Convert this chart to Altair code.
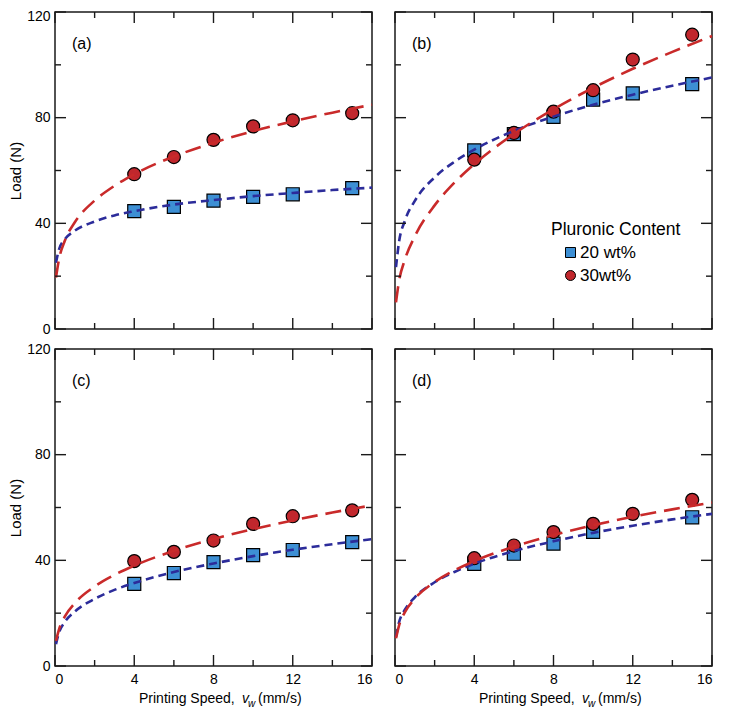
import altair as alt
import pandas as pd

# ---------------- data ----------------
CONTENT = ["20 wt%", "30wt%"]

speeds = [4, 6, 8, 10, 12, 15]
a_20 = [44.6, 46.2, 48.6, 50.0, 51.0, 53.3]
a_30 = [58.6, 65.1, 71.6, 76.7, 79.0, 81.7]
b_20 = [67.6, 73.8, 80.3, 86.8, 89.2, 92.7]
b_30 = [64.1, 74.2, 82.3, 90.4, 102.0, 111.4]
c_20 = [31.1, 35.2, 39.3, 42.0, 43.9, 46.9]
c_30 = [39.7, 43.2, 47.5, 53.8, 56.7, 58.9]
d_speeds_20 = [4, 6, 8, 10, 15]
d_20 = [38.7, 42.5, 46.3, 50.8, 56.3]
d_30 = [40.8, 45.6, 50.7, 53.8, 57.6, 62.9]

fit_speeds = [0.05, 0.2, 0.5, 1, 2, 3, 4, 6, 8, 10, 12, 14, 16]
a_fit_20 = [25.1, 30.1, 34.0, 37.2, 40.7, 43.0, 44.6, 47.1, 48.8, 50.3, 51.5, 52.6, 53.5]
a_fit_30 = [19.5, 26.3, 33.5, 40.4, 48.6, 54.2, 58.6, 65.3, 70.5, 74.9, 78.6, 81.9, 84.9]
b_fit_20 = [23.4, 32.8, 41.0, 48.5, 57.4, 63.3, 67.9, 75.0, 80.4, 84.9, 88.7, 92.1, 95.2]
b_fit_30 = [10.1, 18.0, 26.3, 35.1, 46.8, 55.4, 62.4, 73.8, 83.2, 91.3, 98.5, 104.9, 110.9]
c_fit_20 = [8.3, 12.6, 16.7, 20.6, 25.4, 28.8, 31.4, 35.6, 38.8, 41.6, 44.0, 46.1, 48.0]
c_fit_30 = [9.5, 13.8, 18.8, 23.8, 30.1, 34.5, 38.0, 43.6, 48.1, 51.8, 55.1, 58.1, 60.8]
d_fit_20 = [11.0, 16.4, 21.3, 26.0, 31.7, 35.6, 38.7, 43.5, 47.2, 50.4, 53.1, 55.5, 57.6]
d_fit_30 = [10.5, 15.2, 20.4, 25.5, 31.8, 36.2, 39.7, 45.2, 49.6, 53.3, 56.5, 59.3, 61.9]

x_label_vals = [0, 4, 8, 12, 16]
x_minor_vals = [2, 6, 10, 14]
y_label_vals = [0, 40, 80, 120]
y_minor_vals = [20, 60, 100]

# ---------------- style ----------------
FONT = "Liberation Sans"
INK = "#1a1a1a"
BLUE_FILL = "#3d8fd4"
RED_FILL = "#c1272d"
BLUE_LINE = "#2c2c9a"
RED_LINE = "#c92a2a"
W = H = 317
MAJ, MIN = 11, 6

xs = alt.Scale(domain=[0, 16], nice=False, zero=False)
ys = alt.Scale(domain=[0, 120], nice=False, zero=False)

LEG = alt.Legend(
    title=None, orient="none", legendX=507, legendY=232,
    symbolSize=100, symbolStrokeColor="black", symbolStrokeWidth=1,
    labelFont=FONT, labelFontSize=17, labelColor="black", labelOffset=1,
    rowPadding=5, padding=0,
)


def text_layer(txt, x, y, size=16, align="left", baseline="middle", style="normal"):
    return alt.Chart(pd.DataFrame({"t": [txt]})).mark_text(
        font=FONT, fontSize=size, align=align, baseline=baseline,
        color="black", fontStyle=style,
    ).encode(x=alt.value(x), y=alt.value(y), text="t:N")


def panel(tag, s20, v20, s30, v30, f20, f30, show_x, show_y, legend_title=False, top_row=False):
    if show_x:
        xaxis = alt.Axis(values=x_label_vals, ticks=False, domain=False, grid=False,
                         labelFont=FONT, labelFontSize=14, labelColor="black",
                         labelPadding=6, title=None)
        X = lambda f: alt.X(f"{f}:Q", scale=xs, axis=xaxis)
    else:
        X = lambda f: alt.X(f"{f}:Q", scale=xs, axis=None)
    if show_y:
        shift = 4 if top_row else 0
        yaxis = alt.Axis(values=y_label_vals, ticks=False, domain=False, grid=False,
                         labelFont=FONT, labelFontSize=14, labelColor="black",
                         labelPadding=5, title="Load (N)", titleFont=FONT,
                         titleFontSize=15, titleFontWeight="normal",
                         titlePadding=3, titleColor="black",
                         labelOffset={"condition": {"test": "datum.value === 120", "value": shift}, "value": 0})
        Y = lambda f: alt.Y(f"{f}:Q", scale=ys, axis=yaxis)
    else:
        Y = lambda f: alt.Y(f"{f}:Q", scale=ys, axis=None)

    pts = pd.DataFrame({
        "speed": list(s20) + list(s30),
        "load": list(v20) + list(v30),
        "content": [CONTENT[0]] * len(s20) + [CONTENT[1]] * len(s30),
    })
    points = alt.Chart(pts).mark_point(
        filled=True, size=170, stroke="black", strokeWidth=1.2, opacity=1
    ).encode(
        x=X("speed"), y=Y("load"),
        color=alt.Color("content:N", scale=alt.Scale(domain=CONTENT, range=[BLUE_FILL, RED_FILL]), legend=LEG),
        shape=alt.Shape("content:N", scale=alt.Scale(domain=CONTENT, range=["square", "circle"]), legend=LEG),
    )
    blue = alt.Chart(pd.DataFrame({"speed": fit_speeds, "load": f20})).mark_line(
        color=BLUE_LINE, strokeWidth=2.6, strokeDash=[8, 5], interpolate="monotone"
    ).encode(x=X("speed"), y=Y("load"))
    red = alt.Chart(pd.DataFrame({"speed": fit_speeds, "load": f30})).mark_line(
        color=RED_LINE, strokeWidth=2.6, strokeDash=[16, 8], interpolate="monotone"
    ).encode(x=X("speed"), y=Y("load"))

    layers = [points, blue, red]
    for vals, ln in ((x_label_vals, MAJ), (x_minor_vals, MIN)):
        d = pd.DataFrame({"v": vals})
        layers.append(alt.Chart(d).mark_rule(color=INK, strokeWidth=1.4).encode(
            x=X("v"), y=alt.value(H), y2=alt.value(H - ln)))
        layers.append(alt.Chart(d).mark_rule(color=INK, strokeWidth=1.4).encode(
            x=X("v"), y=alt.value(0), y2=alt.value(ln)))
    for vals, ln in ((y_label_vals, MAJ), (y_minor_vals, MIN)):
        d = pd.DataFrame({"v": vals})
        layers.append(alt.Chart(d).mark_rule(color=INK, strokeWidth=1.4).encode(
            y=Y("v"), x=alt.value(0), x2=alt.value(ln)))
        layers.append(alt.Chart(d).mark_rule(color=INK, strokeWidth=1.4).encode(
            y=Y("v"), x=alt.value(W), x2=alt.value(W - ln)))

    layers.append(text_layer(tag, 17, 32, size=16))
    if show_x:
        x0 = 84
        layers.append(text_layer("Printing Speed,", x0, 354, size=14, baseline="alphabetic"))
        layers.append(text_layer("v", x0 + 103, 354, size=14, baseline="alphabetic", style="italic"))
        layers.append(text_layer("w", x0 + 109, 358, size=10, baseline="alphabetic", style="italic"))
        layers.append(text_layer("(mm/s)", x0 + 119, 354, size=14, baseline="alphabetic"))
    if legend_title:
        layers.append(text_layer("Pluronic Content", 156, 223, size=17.5, baseline="alphabetic"))
    return alt.layer(*layers).properties(width=W, height=H)


pa = panel("(a)", speeds, a_20, speeds, a_30, a_fit_20, a_fit_30, False, True, top_row=True)
pb = panel("(b)", speeds, b_20, speeds, b_30, b_fit_20, b_fit_30, False, False, legend_title=True)
pc = panel("(c)", speeds, c_20, speeds, c_30, c_fit_20, c_fit_30, True, True)
pd_ = panel("(d)", d_speeds_20, d_20, speeds, d_30, d_fit_20, d_fit_30, True, False)

chart = alt.concat(
    pa, pb, pc, pd_, columns=2,
    spacing=alt.RowColnumber(row=20, column=23), bounds="flush",
).properties(
    autosize=alt.AutoSizeParams(type="none"),
    padding={"left": 47, "top": 4, "right": 666, "bottom": 700},
    background="white",
).configure_view(stroke=INK, strokeWidth=1.5)

chart.save("out.html", embed_options={"renderer": "svg", "actions": False})
